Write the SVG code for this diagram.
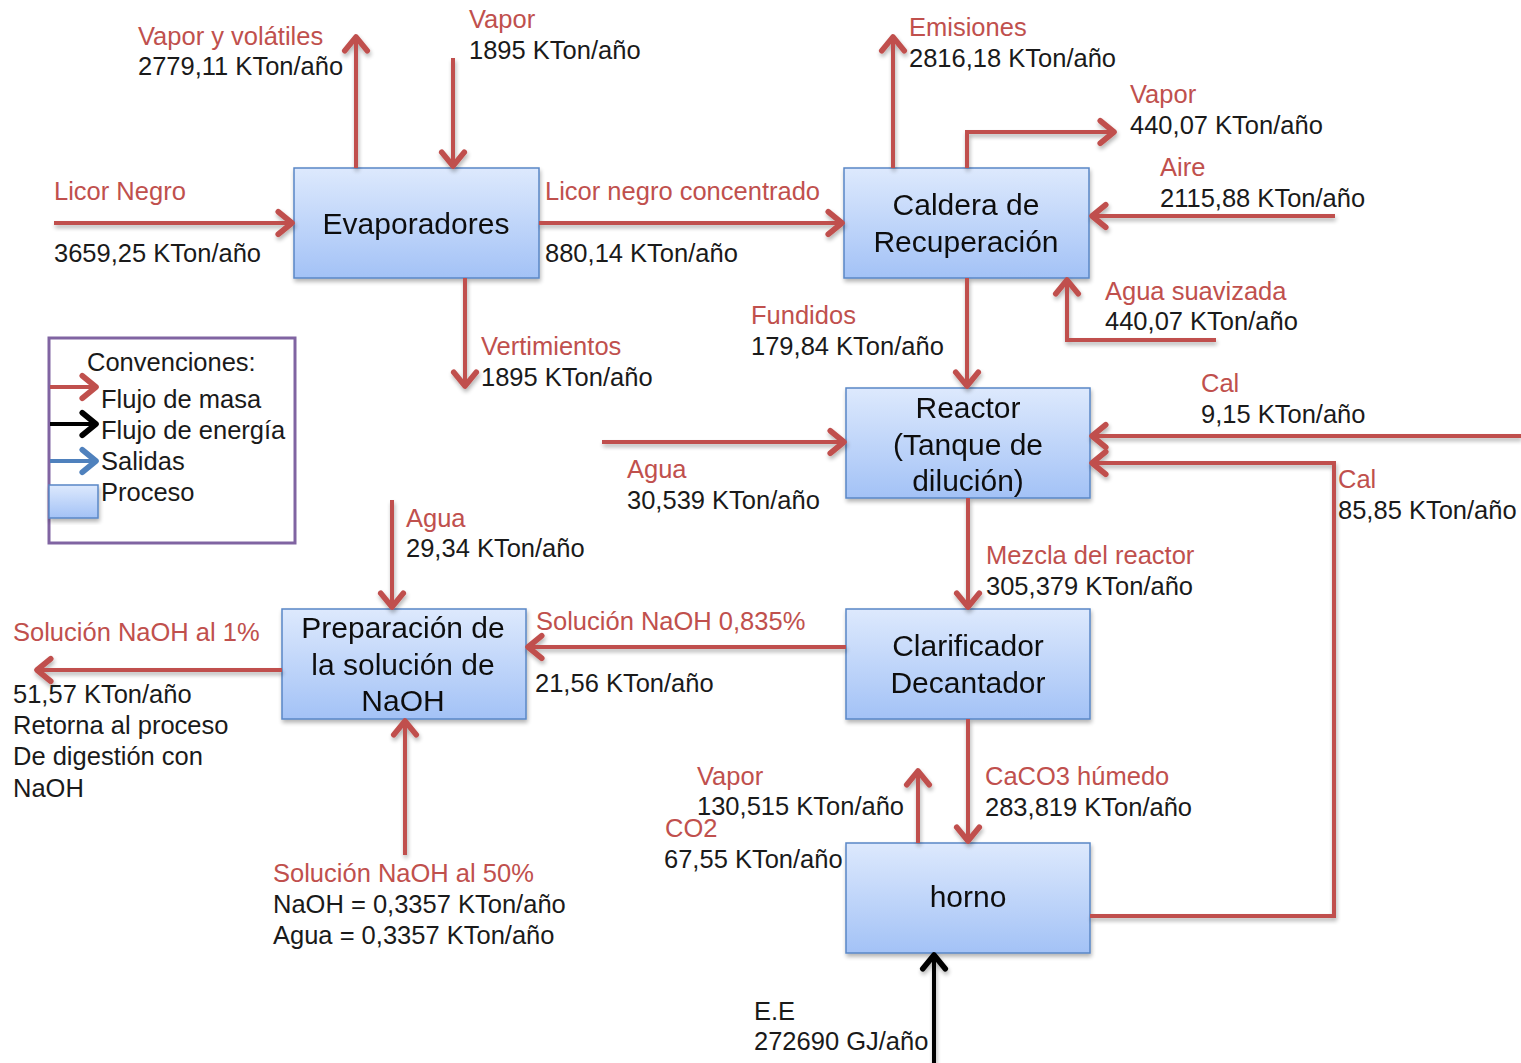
<svg xmlns="http://www.w3.org/2000/svg" width="1521" height="1063" viewBox="0 0 1521 1063">
  <defs>
    <linearGradient id="boxFill" x1="0" y1="0" x2="0" y2="1">
      <stop offset="0" stop-color="#dde9fd"/>
      <stop offset="1" stop-color="#a3c2f6"/>
    </linearGradient>
    <filter id="shadow" x="-10%" y="-10%" width="130%" height="130%">
      <feGaussianBlur in="SourceAlpha" stdDeviation="2"/>
      <feOffset dx="1" dy="3" result="b"/>
      <feComponentTransfer><feFuncA type="linear" slope="0.3"/></feComponentTransfer>
      <feMerge><feMergeNode/><feMergeNode in="SourceGraphic"/></feMerge>
    </filter>
    <marker id="arrRed" markerUnits="userSpaceOnUse" markerWidth="30" markerHeight="30" viewBox="-16 -12 20 24" refX="0" refY="0" orient="auto">
      <path d="M-11,-9 L0,0 L-11,9" fill="none" stroke="#c0504d" stroke-width="4.5" stroke-linecap="round" stroke-linejoin="round"/>
    </marker>
    <marker id="arrBlack" markerUnits="userSpaceOnUse" markerWidth="30" markerHeight="30" viewBox="-16 -12 20 24" refX="0" refY="0" orient="auto">
      <path d="M-11,-9 L0,0 L-11,9" fill="none" stroke="#000" stroke-width="4.5" stroke-linecap="round" stroke-linejoin="round"/>
    </marker>
    <marker id="arrBlue" markerUnits="userSpaceOnUse" markerWidth="30" markerHeight="30" viewBox="-16 -12 20 24" refX="0" refY="0" orient="auto">
      <path d="M-11,-9 L0,0 L-11,9" fill="none" stroke="#4f81bd" stroke-width="4.5" stroke-linecap="round" stroke-linejoin="round"/>
    </marker>
  </defs>
  <style>
    .box { fill: url(#boxFill); stroke: #5a87c6; stroke-width: 1.5; }
    .flow { fill: none; stroke: #c0504d; stroke-width: 4; marker-end: url(#arrRed); }
    .energy { fill: none; stroke: #000; stroke-width: 4; marker-end: url(#arrBlack); }
    text { font-family: "Liberation Sans", Arial, sans-serif; font-size: 25.5px; }
    .lbl { fill: #c0504d; }
    .val { fill: #1a1a1a; }
    .node { font-size: 30px; fill: #111; text-anchor: middle; }
  </style>
  <rect width="1521" height="1063" fill="#fff"/>

  <!-- process units -->
  <g id="evaporadores" filter="url(#shadow)">
    <rect class="box" x="294" y="168" width="245" height="110"/>
    <text class="node" x="416" y="234">Evaporadores</text>
  </g>
  <g id="caldera" filter="url(#shadow)">
    <rect class="box" x="844" y="168" width="245" height="110"/>
    <text class="node" x="966" y="215">Caldera de</text>
    <text class="node" x="966" y="252">Recuperación</text>
  </g>
  <g id="reactor" filter="url(#shadow)">
    <rect class="box" x="846" y="388" width="244" height="110"/>
    <text class="node" x="968" y="418">Reactor</text>
    <text class="node" x="968" y="455">(Tanque de</text>
    <text class="node" x="968" y="491">dilución)</text>
  </g>
  <g id="preparacion" filter="url(#shadow)">
    <rect class="box" x="282" y="609" width="244" height="110"/>
    <text class="node" x="403" y="638">Preparación de</text>
    <text class="node" x="403" y="675">la solución de</text>
    <text class="node" x="403" y="711">NaOH</text>
  </g>
  <g id="clarificador" filter="url(#shadow)">
    <rect class="box" x="846" y="609" width="244" height="110"/>
    <text class="node" x="968" y="656">Clarificador</text>
    <text class="node" x="968" y="693">Decantador</text>
  </g>
  <g id="horno" filter="url(#shadow)">
    <rect class="box" x="846" y="843" width="244" height="110"/>
    <text class="node" x="968" y="907">horno</text>
  </g>

  <!-- legend -->
  <g id="convenciones">
    <rect x="49" y="338" width="246" height="205" fill="#fff" stroke="#8064a2" stroke-width="3"/>
    <text class="val" x="87" y="371">Convenciones:</text>
    <line x1="50" y1="387" x2="96" y2="387" stroke="#c0504d" stroke-width="4" marker-end="url(#arrRed)"/>
    <line x1="50" y1="424" x2="96" y2="424" stroke="#000" stroke-width="4" marker-end="url(#arrBlack)"/>
    <line x1="50" y1="461" x2="96" y2="461" stroke="#4f81bd" stroke-width="4" marker-end="url(#arrBlue)"/>
    <rect class="box" x="49" y="485" width="49" height="33" filter="url(#shadow)"/>
    <text class="val" x="101" y="408">Flujo  de masa</text>
    <text class="val" x="101" y="439">Flujo  de energía</text>
    <text class="val" x="101" y="470">Salidas</text>
    <text class="val" x="101" y="501">Proceso</text>
  </g>

  <!-- mass and energy flows -->
  <g id="connectors" filter="url(#shadow)">
    <path class="flow" d="M54,223 H292"/>
    <path class="flow" d="M356,168 V37"/>
    <path class="flow" d="M453,58 V166"/>
    <path class="flow" d="M539,223 H842"/>
    <path class="flow" d="M465,278 V386"/>
    <path class="flow" d="M893,168 V37"/>
    <path class="flow" d="M967,168 V132 H1114"/>
    <path class="flow" d="M1335,216 H1092"/>
    <path class="flow" d="M1216,340 H1067 V280"/>
    <path class="flow" d="M967,278 V386"/>
    <path class="flow" d="M602,442 H844"/>
    <path class="flow" d="M1521,436 H1092"/>
    <path class="flow" d="M1090,916 H1334 V463 H1092"/>
    <path class="flow" d="M968,498 V607"/>
    <path class="flow" d="M846,647 H528"/>
    <path class="flow" d="M282,670 H37"/>
    <path class="flow" d="M392,500 V607"/>
    <path class="flow" d="M405,855 V721"/>
    <path class="flow" d="M968,719 V841"/>
    <path class="flow" d="M918,843 V771"/>
    <path class="energy" d="M934,1063 V955"/>
  </g>

  <!-- flow labels -->
  <g id="labels">
    <text class="lbl" x="138" y="45">Vapor y volátiles</text>
    <text class="val" x="138" y="75">2779,11 KTon/año</text>
    <text class="lbl" x="469" y="28">Vapor</text>
    <text class="val" x="469" y="59">1895 KTon/año</text>
    <text class="lbl" x="54" y="200">Licor Negro</text>
    <text class="val" x="54" y="262">3659,25 KTon/año</text>
    <text class="lbl" x="545" y="200">Licor negro concentrado</text>
    <text class="val" x="545" y="262">880,14 KTon/año</text>
    <text class="lbl" x="481" y="355">Vertimientos</text>
    <text class="val" x="481" y="386">1895 KTon/año</text>
    <text class="lbl" x="909" y="36">Emisiones</text>
    <text class="val" x="909" y="67">2816,18 KTon/año</text>
    <text class="lbl" x="1130" y="103">Vapor</text>
    <text class="val" x="1130" y="134">440,07 KTon/año</text>
    <text class="lbl" x="1160" y="176">Aire</text>
    <text class="val" x="1160" y="207">2115,88 KTon/año</text>
    <text class="lbl" x="1105" y="300">Agua suavizada</text>
    <text class="val" x="1105" y="330">440,07 KTon/año</text>
    <text class="lbl" x="751" y="324">Fundidos</text>
    <text class="val" x="751" y="355">179,84 KTon/año</text>
    <text class="lbl" x="1201" y="392">Cal</text>
    <text class="val" x="1201" y="423">9,15 KTon/año</text>
    <text class="lbl" x="627" y="478">Agua</text>
    <text class="val" x="627" y="509">30,539 KTon/año</text>
    <text class="lbl" x="1338" y="488">Cal</text>
    <text class="val" x="1338" y="519">85,85 KTon/año</text>
    <text class="lbl" x="406" y="527">Agua</text>
    <text class="val" x="406" y="557">29,34 KTon/año</text>
    <text class="lbl" x="986" y="564">Mezcla  del reactor</text>
    <text class="val" x="986" y="595">305,379 KTon/año</text>
    <text class="lbl" x="536" y="630">Solución NaOH 0,835%</text>
    <text class="val" x="535" y="692">21,56 KTon/año</text>
    <text class="lbl" x="13" y="641">Solución NaOH al 1%</text>
    <text class="val" x="13" y="703">51,57 KTon/año</text>
    <text class="val" x="13" y="734">Retorna  al proceso</text>
    <text class="val" x="13" y="765">De digestión con</text>
    <text class="val" x="13" y="797">NaOH</text>
    <text class="lbl" x="697" y="785">Vapor</text>
    <text class="val" x="697" y="815">130,515 KTon/año</text>
    <text class="lbl" x="665" y="837">CO2</text>
    <text class="val" x="664" y="868">67,55 KTon/año</text>
    <text class="lbl" x="985" y="785">CaCO3 húmedo</text>
    <text class="val" x="985" y="816">283,819 KTon/año</text>
    <text class="lbl" x="273" y="882">Solución NaOH al 50%</text>
    <text class="val" x="273" y="913">NaOH = 0,3357 KTon/año</text>
    <text class="val" x="273" y="944">Agua = 0,3357 KTon/año</text>
    <text class="val" x="754" y="1020">E.E</text>
    <text class="val" x="754" y="1050">272690 GJ/año</text>
  </g>
</svg>
